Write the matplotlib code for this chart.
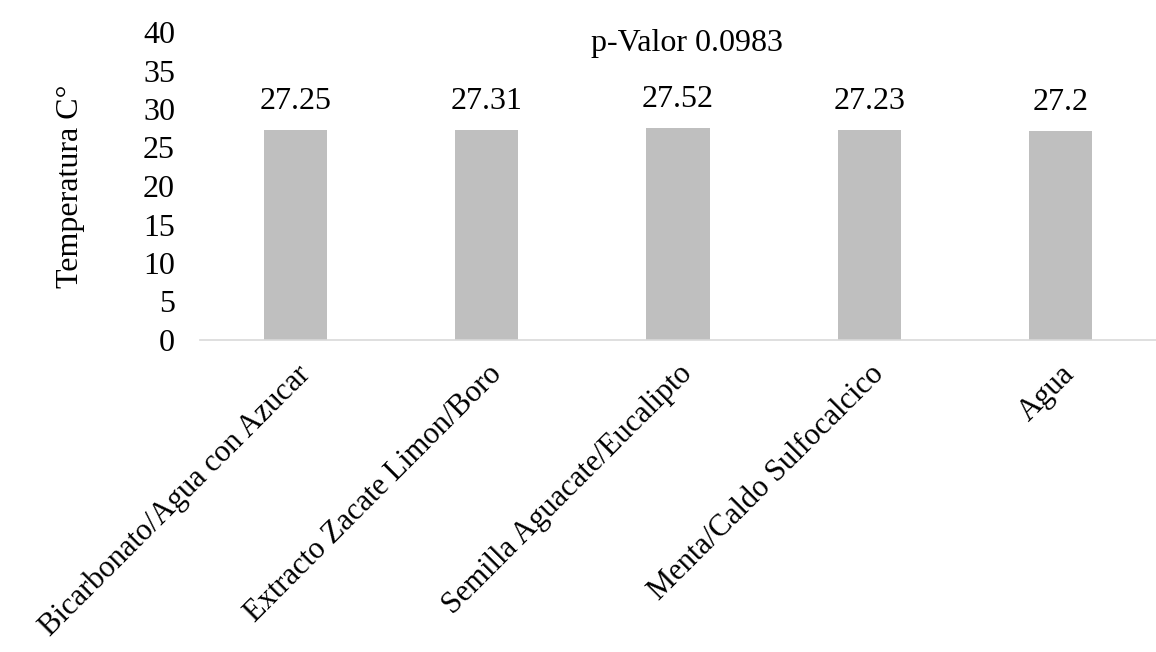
import matplotlib
matplotlib.use("Agg")
import matplotlib.pyplot as plt

categories = ["Bicarbonato/Agua con Azucar", "Extracto Zacate Limon/Boro",
              "Semilla Aguacate/Eucalipto", "Menta/Caldo Sulfocalcico", "Agua"]
values = [27.25, 27.31, 27.52, 27.23, 27.2]
value_labels = ["27.25", "27.31", "27.52", "27.23", "27.2"]
yticks = [0, 5, 10, 15, 20, 25, 30, 35, 40]
title = "p-Valor 0.0983"
ylabel = "Temperatura C°"

plt.rcParams['font.family'] = ['Liberation Serif', 'DejaVu Serif']
FS = 23

fig = plt.figure(figsize=(11.56, 6.52), dpi=100)
ax = fig.add_axes([200/1156, 1-340/652, 956/1156, (340-32)/652])

x = range(len(categories))
ax.bar(x, values, width=0.33, color="#BFBFBF")
for xi, v, lab in zip(x, values, value_labels):
    ax.text(xi, v + 1.8, lab, ha="center", va="bottom", fontsize=FS)

ax.set_xlim(-0.5, len(categories) - 0.5)
ax.set_ylim(0, 40)
ax.set_yticks(yticks)
ax.set_yticklabels([str(t) for t in yticks], fontsize=FS)
ax.set_xticks(list(x))
ax.set_xticklabels(categories, rotation=45, ha="right", rotation_mode="anchor", fontsize=22)
ax.tick_params(axis="both", length=0)
ax.tick_params(axis="y", pad=18)
ax.tick_params(axis="x", pad=14)
for s in ["top", "right", "left"]:
    ax.spines[s].set_visible(False)
ax.spines["bottom"].set_color("#D9D9D9")
ax.spines["bottom"].set_linewidth(1.2)

ax.set_ylabel(ylabel, fontsize=FS, labelpad=42)
fig.text(687/1156, 1-43/652, title, ha="center", va="center", fontsize=FS)

fig.savefig("out.png", dpi=100)
